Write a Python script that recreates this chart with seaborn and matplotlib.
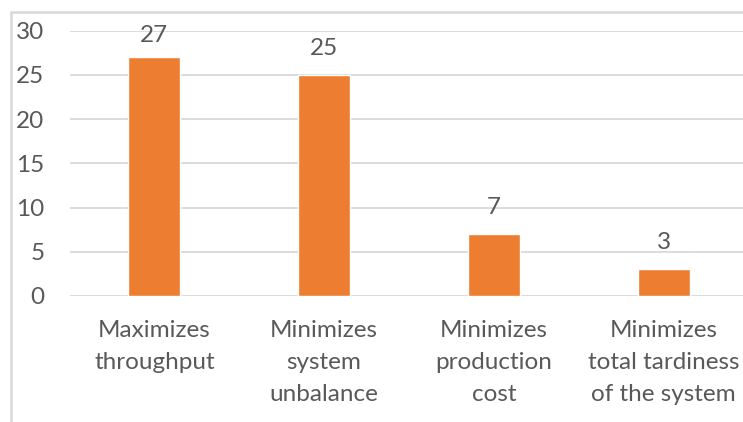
import matplotlib
matplotlib.use("Agg")
import matplotlib.pyplot as plt
from matplotlib.patches import Rectangle
import seaborn as sns
import pandas as pd

categories = [
    "Maximizes\nthroughput",
    "Minimizes\nsystem\nunbalance",
    "Minimizes\nproduction\ncost",
    "Minimizes\ntotal tardiness\nof the system",
]
counts = [27, 25, 7, 3]
y_ticks = [0, 5, 10, 15, 20, 25, 30]

sns.set_theme(style="white")
plt.rcParams["font.family"] = ["Lato", "DejaVu Sans"]

TEXT = "#595959"
GRID = "#d9d9d9"
BAR = "#ED7D31"
FS = 17.5

W, H = 743, 422
fig = plt.figure(figsize=(W / 100, H / 100), dpi=100)
# plot area in pixel terms: x 69.5..748.5, y 30.5..296 (from top)
ax = fig.add_axes([69.5 / W, (H - 296) / H, 679 / W, (296 - 30.5) / H])

df = pd.DataFrame({"objective": categories, "count": counts})
sns.barplot(data=df, x="objective", y="count", color=BAR, saturation=1,
            width=0.307, ax=ax, zorder=3)

ax.set_ylim(0, 30)
ax.set_xlim(-0.5, 3.5)
ax.set_yticks(y_ticks)
ax.yaxis.grid(True, color=GRID, lw=1.3, zorder=0)
ax.set_axisbelow(True)
for s in ax.spines.values():
    s.set_visible(False)
ax.set_xlabel("")
ax.set_ylabel("")
ax.tick_params(axis="both", length=0, labelsize=FS, labelcolor=TEXT)
ax.tick_params(axis="y", pad=18)
ax.tick_params(axis="x", pad=17.5)
for lab in ax.get_xticklabels():
    lab.set_linespacing(1.64)
    lab.set_horizontalalignment("center")

# value labels above each bar, kept inside the plot area
px_per_unit = (296 - 30.5) / 30
offset = 20 / px_per_unit
cap = 28.65
for i, v in enumerate(counts):
    ax.text(i, min(v + offset, cap), f"{v}", ha="center", va="baseline",
            fontsize=FS, color=TEXT)

# chart area frame
fig.add_artist(Rectangle((11 / W, -0.1), 1.2, (H - 12) / H + 0.1,
                         transform=fig.transFigure, fill=False,
                         edgecolor=GRID, lw=1.8, clip_on=False))

fig.savefig("out.png", dpi=100, facecolor="white")
